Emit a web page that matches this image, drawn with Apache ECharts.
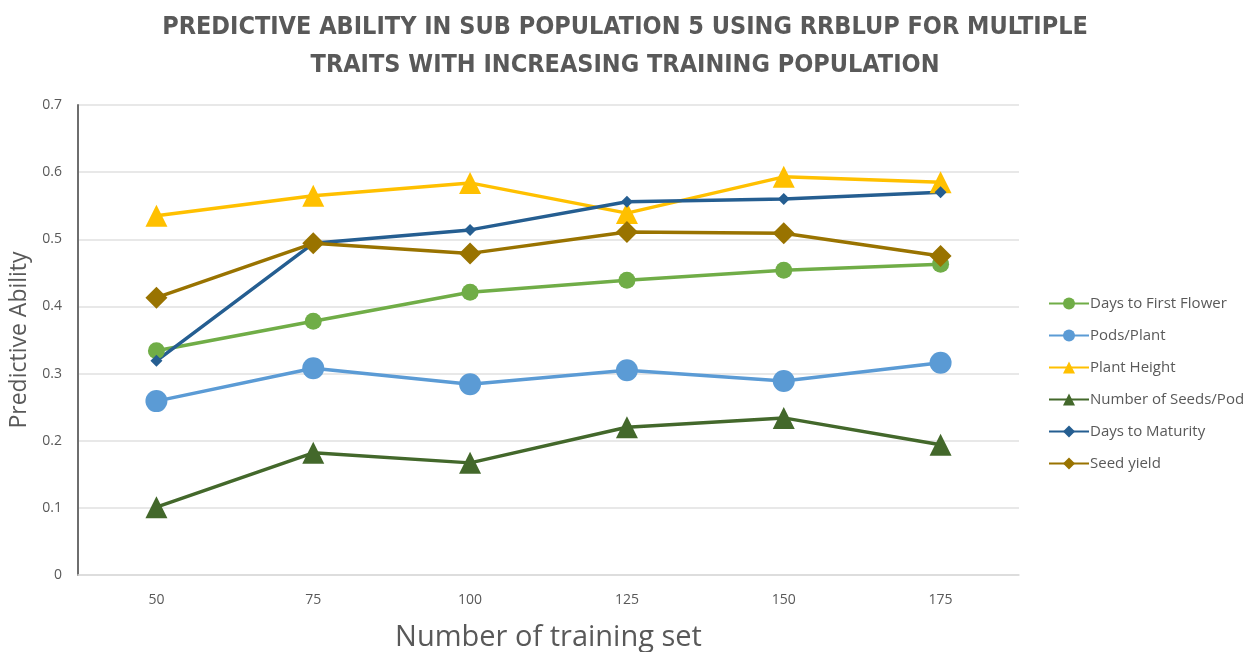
<!DOCTYPE html>
<html>
<head>
<meta charset="utf-8">
<script src="https://cdn.jsdelivr.net/npm/echarts@6/dist/echarts.min.js"></script>
<style>
  html, body { margin: 0; padding: 0; background: #fff; }
  #chart { width: 1246px; height: 652px; }
</style>
</head>
<body>
<div id="chart"></div>
<script>
// Training set sizes along the x axis
const trainingSizes = ['50', '75', '100', '125', '150', '175'];

// Predictive ability per trait
const daysToFirstFlower = [0.334, 0.378, 0.421, 0.439, 0.454, 0.463];
const podsPerPlant      = [0.259, 0.308, 0.284, 0.305, 0.289, 0.316];
const plantHeight       = [0.535, 0.565, 0.584, 0.539, 0.593, 0.585];
const seedsPerPod       = [0.101, 0.182, 0.167, 0.220, 0.234, 0.194];
const daysToMaturity    = [0.319, 0.494, 0.514, 0.556, 0.560, 0.570];
const seedYield         = [0.413, 0.494, 0.479, 0.511, 0.509, 0.475];

const textGray = '#595959';

function lineSeries(name, data, color, symbol, size) {
  return {
    name: name,
    type: 'line',
    data: data,
    symbol: symbol,
    symbolSize: size,
    lineStyle: { color: color, width: 3.5 },
    itemStyle: { color: color },
    emphasis: { disabled: true }
  };
}

const chart = echarts.init(document.getElementById('chart'));
chart.setOption({
  animation: false,
  backgroundColor: '#fff',
  title: {
    text: 'PREDICTIVE ABILITY IN SUB POPULATION 5 USING RRBLUP FOR MULTIPLE\nTRAITS WITH INCREASING TRAINING POPULATION',
    left: 620,
    top: 3,
    textAlign: 'center',
    textStyle: {
      fontFamily: 'DejaVu Sans Condensed',
      fontWeight: 'bold',
      fontSize: 25,
      lineHeight: 38,
      color: textGray
    }
  },
  legend: {
    orient: 'vertical',
    left: 1043,
    top: 291,
    itemGap: 17,
    itemWidth: 40,
    itemHeight: 15,
    textStyle: { fontFamily: 'Open Sans', fontSize: 15, color: textGray, padding: [0, 0, 0, -4] },
    data: ['Days to First Flower', 'Pods/Plant', 'Plant Height', 'Number of Seeds/Pod', 'Days to Maturity', 'Seed yield']
  },
  grid: { left: 78, right: 227, top: 105, bottom: 77, outerBoundsMode: 'none' },
  xAxis: {
    type: 'category',
    data: trainingSizes,
    boundaryGap: true,
    name: 'Number of training set',
    nameLocation: 'middle',
    nameGap: 48,
    nameTextStyle: { fontFamily: 'Open Sans', fontSize: 29, color: textGray },
    axisLine: { lineStyle: { color: '#d9d9d9', width: 1.5 } },
    axisTick: { show: false },
    axisLabel: { fontFamily: 'Open Sans', fontSize: 14, color: textGray, margin: 18 }
  },
  yAxis: {
    type: 'value',
    min: 0,
    max: 0.7,
    interval: 0.1,
    name: 'Predictive Ability',
    nameLocation: 'middle',
    nameGap: 46,
    nameTextStyle: { fontFamily: 'Open Sans', fontSize: 23, color: textGray },
    axisLine: { show: true, lineStyle: { color: '#6e6e6e', width: 2 } },
    axisTick: { show: false },
    axisLabel: {
      fontFamily: 'Open Sans', fontSize: 14, color: textGray, margin: 16,
      formatter: v => (v === 0 ? '0' : String(Math.round(v * 10) / 10))
    },
    splitLine: { lineStyle: { color: '#e0e0e0', width: 1.5 } }
  },
  series: [
    lineSeries('Days to First Flower', daysToFirstFlower, '#70AD47', 'circle', 17),
    lineSeries('Pods/Plant', podsPerPlant, '#5B9BD5', 'circle', 22),
    lineSeries('Plant Height', plantHeight, '#FFC000', 'triangle', 22),
    lineSeries('Number of Seeds/Pod', seedsPerPod, '#43682B', 'triangle', 22),
    lineSeries('Days to Maturity', daysToMaturity, '#255E91', 'diamond', 12),
    lineSeries('Seed yield', seedYield, '#997300', 'diamond', 22)
  ]
});
</script>
</body>
</html>
